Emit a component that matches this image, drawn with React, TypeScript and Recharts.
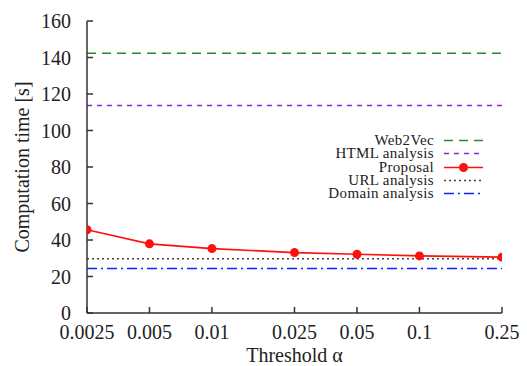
import React from "react";
import { ComposedChart, Line, XAxis, YAxis } from "recharts";

const thresholds = [0.0025, 0.005, 0.01, 0.025, 0.05, 0.1, 0.25];
const thresholdLabels = ["0.0025", "0.005", "0.01", "0.025", "0.05", "0.1", "0.25"];
const proposalTimes = [45.6, 37.9, 35.3, 33.1, 32.2, 31.3, 30.6];
const web2vecTime = 142.3;
const htmlTime = 113.7;
const urlTime = 29.7;
const domainTime = 24.4;
const yTicks = [0, 20, 40, 60, 80, 100, 120, 140, 160];

const data = thresholds.map((t, i) => ({
  alpha: t,
  proposal: proposalTimes[i],
  web2vec: web2vecTime,
  html: htmlTime,
  url: urlTime,
  domain: domainTime,
}));

const FONT = "Liberation Serif, serif";
const AXIS = "#333";

const legendItems = [
  { label: "Web2Vec", color: "#2a8a2a", dash: "9 6", dot: false },
  { label: "HTML analysis", color: "#9b1fe0", dash: "5 5", dot: false },
  { label: "Proposal", color: "#ff1010", dash: undefined, dot: true },
  { label: "URL analysis", color: "#444", dash: "2 3", dot: false },
  { label: "Domain analysis", color: "#1020ff", dash: "10 4 2 4", dot: false },
];

const LegendBox = () => (
  <div style={{ position: "absolute", left: 250, top: 134, width: 243, fontFamily: FONT, fontSize: 15, letterSpacing: 0.35, color: "#222" }}>
    {legendItems.map((it) => (
      <div key={it.label} style={{ display: "flex", alignItems: "center", justifyContent: "flex-end", height: 13.3 }}>
        <span style={{ lineHeight: "13px" }}>{it.label}</span>
        <svg width={50} height={13} style={{ marginLeft: 9 }}>
          <line x1={1} x2={40} y1={6.5} y2={6.5} stroke={it.color} strokeWidth={1.6} strokeDasharray={it.dash} />
          {it.dot && <circle cx={20.5} cy={6.5} r={4.5} fill={it.color} />}
        </svg>
      </div>
    ))}
  </div>
);

const labelTick = (props: any) => {
  const { x, y, payload } = props;
  const idx = thresholds.indexOf(payload.value);
  return (
    <text x={x} y={y} textAnchor="middle" dominantBaseline="central" fontFamily={FONT} fontSize={20} fill="#222">
      {thresholdLabels[idx]}
    </text>
  );
};

const yLabelTick = (props: any) => {
  const { x, y, payload } = props;
  return (
    <text x={x} y={y} textAnchor="end" dominantBaseline="central" fontFamily={FONT} fontSize={20} fill="#222">
      {payload.value}
    </text>
  );
};

const labelStyle = { fontFamily: FONT, fontSize: 20, fill: "#222" };

export default function App() {
  return (
    <div style={{ position: "absolute", left: 0, top: 0, width: 527, height: 366, background: "#fff" }}>
      <ComposedChart width={527} height={366} data={data} margin={{ top: 21, right: 25, bottom: 0, left: 0 }}>
        <XAxis
          xAxisId="b"
          dataKey="alpha"
          type="number"
          scale="log"
          domain={[0.0025, 0.25]}
          ticks={thresholds}
          allowDataOverflow
          orientation="bottom"
          height={53}
          stroke={AXIS}
          strokeWidth={1.5}
          tickSize={-6}
          tickMargin={25}
          tick={labelTick}
          label={{ value: "Threshold α", position: "insideBottom", offset: 0, dy: -4, style: labelStyle }}
        />
        <XAxis
          xAxisId="t"
          dataKey="alpha"
          type="number"
          scale="log"
          domain={[0.0025, 0.25]}
          ticks={thresholds}
          allowDataOverflow
          orientation="top"
          height={0}
          stroke={AXIS}
          strokeWidth={1.5}
          tickSize={-6}
          tick={() => <g />}
        />
        <YAxis
          yAxisId="l"
          domain={[0, 160]}
          ticks={yTicks}
          width={87}
          stroke={AXIS}
          strokeWidth={1.5}
          tickSize={-6}
          tickMargin={22}
          tick={yLabelTick}
          label={{ value: "Computation time [s]", angle: -90, position: "insideLeft", offset: 0, dx: 22, style: { ...labelStyle, textAnchor: "middle" } }}
        />
        <YAxis
          yAxisId="r"
          orientation="right"
          domain={[0, 160]}
          ticks={yTicks}
          width={0}
          stroke={AXIS}
          strokeWidth={1.5}
          tickSize={-6}
          tick={() => <g />}
        />
        <Line xAxisId="b" yAxisId="l" dataKey="web2vec" stroke="#2a8a2a" strokeWidth={1.6} strokeDasharray="9 6" dot={false} isAnimationActive={false} />
        <Line xAxisId="b" yAxisId="l" dataKey="html" stroke="#9b1fe0" strokeWidth={1.6} strokeDasharray="5 5" dot={false} isAnimationActive={false} />
        <Line xAxisId="b" yAxisId="l" dataKey="url" stroke="#444" strokeWidth={1.6} strokeDasharray="2 3" dot={false} isAnimationActive={false} />
        <Line xAxisId="b" yAxisId="l" dataKey="domain" stroke="#1020ff" strokeWidth={1.6} strokeDasharray="10 4 2 4" dot={false} isAnimationActive={false} />
        <Line xAxisId="b" yAxisId="l" dataKey="proposal" stroke="#ff1010" strokeWidth={1.6} dot={{ r: 4.5, fill: "#ff1010", stroke: "#ff1010", strokeWidth: 0 }} isAnimationActive={false} />
      </ComposedChart>
      <LegendBox />
    </div>
  );
}
